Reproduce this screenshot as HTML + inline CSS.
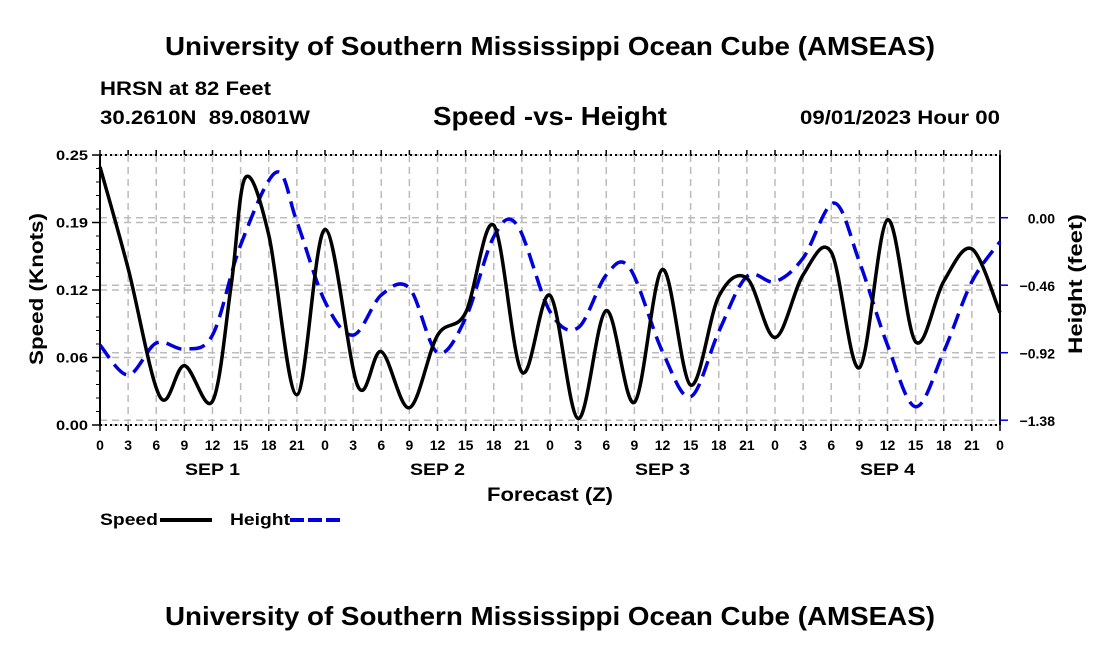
<!DOCTYPE html>
<html><head><meta charset="utf-8"><style>
body{margin:0;background:#fff;}
svg text{font-family:"Liberation Sans",sans-serif;font-weight:bold;fill:#000;}
</style></head><body>
<svg id="chart" width="1100" height="650" viewBox="0 0 1100 650" xmlns="http://www.w3.org/2000/svg">
<text x="165" y="55" font-size="26" textLength="770" lengthAdjust="spacingAndGlyphs">University of Southern Mississippi Ocean Cube (AMSEAS)</text>
<text x="100" y="95" font-size="19" textLength="171" lengthAdjust="spacingAndGlyphs">HRSN at 82 Feet</text>
<text x="100" y="124" font-size="19" textLength="210" lengthAdjust="spacingAndGlyphs" xml:space="preserve">30.2610N  89.0801W</text>
<text x="433" y="125" font-size="26" textLength="234" lengthAdjust="spacingAndGlyphs">Speed -vs- Height</text>
<text x="800" y="124" font-size="19" textLength="200" lengthAdjust="spacingAndGlyphs">09/01/2023 Hour 00</text>
<g id="grid"></g>
<g id="axes"></g>
<g id="series"></g>
<text transform="translate(43,289) rotate(-90)" font-size="19" text-anchor="middle" textLength="152" lengthAdjust="spacingAndGlyphs">Speed (Knots)</text>
<text transform="translate(1082,284) rotate(-90)" font-size="19" text-anchor="middle" textLength="140" lengthAdjust="spacingAndGlyphs">Height (feet)</text>
<text x="487" y="501" font-size="19" textLength="126" lengthAdjust="spacingAndGlyphs">Forecast (Z)</text>
<g>
<text x="100" y="525" font-size="17" textLength="58" lengthAdjust="spacingAndGlyphs">Speed</text>
<line x1="160" y1="520" x2="212" y2="520" stroke="#000" stroke-width="4"/>
<text x="230" y="525" font-size="17" textLength="60" lengthAdjust="spacingAndGlyphs">Height</text>
<line x1="290" y1="520" x2="342" y2="520" stroke="#0000dd" stroke-width="4" stroke-dasharray="14,4"/>
</g>
<text x="165" y="625" font-size="26" textLength="770" lengthAdjust="spacingAndGlyphs">University of Southern Mississippi Ocean Cube (AMSEAS)</text>
</svg>
<script>
const speedHours=[0,3,6.4,9,12,14,15.5,18,21,24,27.5,30,33,36,39,42,45,48,51,54,57,60,63,66,69,72,75,78,81,84,87,90,93,96];
const speedValues=[0.239,0.145,0.026,0.055,0.022,0.13,0.229,0.176,0.028,0.181,0.036,0.068,0.016,0.083,0.104,0.185,0.049,0.12,0.006,0.106,0.021,0.144,0.037,0.119,0.136,0.081,0.139,0.16,0.053,0.19,0.077,0.133,0.163,0.104];
const heightHours=[0,3,6,9,12,15,18.8,21,24,27,30,33,36,39,42,44.5,48,51,54,56.5,60,63,66,69,72,75,78.3,81,84,87,90,93,96];
const heightValues=[-0.868,-1.072,-0.854,-0.895,-0.80,-0.186,0.31,-0.027,-0.572,-0.80,-0.527,-0.48,-0.92,-0.684,-0.13,-0.05,-0.64,-0.75,-0.39,-0.343,-0.913,-1.22,-0.777,-0.40,-0.436,-0.275,0.10,-0.30,-0.868,-1.288,-0.913,-0.436,-0.164];
const xTickLabels=["0","3","6","9","12","15","18","21"];
const dayLabels=["SEP 1","SEP 2","SEP 3","SEP 4"];
const leftTicks=[0,0.0625,0.125,0.1875,0.25];
const leftTickLabels=["0.00","0.06","0.12","0.19","0.25"];
const rightTicks=[0,-0.46,-0.92,-1.38];
const rightTickLabels=["0.00","\u22120.46","\u22120.92","\u22121.38"];

const X0=100,X1=1000,YT=155,YB=425;
const xs=h=>X0+(X1-X0)*h/96;
const ysL=v=>YB-(YB-YT)*v/0.25;
const ysR=v=>217.7-v*67.5/0.46;
const NS="http://www.w3.org/2000/svg";
function mk(tag,attrs,parent){const e=document.createElementNS(NS,tag);for(const k in attrs)e.setAttribute(k,attrs[k]);parent.appendChild(e);return e;}
const grid=document.getElementById('grid'),axes=document.getElementById('axes'),series=document.getElementById('series');

for(let h=3;h<96;h+=3){const l=mk('line',{x1:xs(h),x2:xs(h),y1:YT,y2:YB,stroke:'#bbb','stroke-width':1.5,'stroke-dasharray':'7,5'},grid);

}
leftTicks.forEach(v=>{const l=mk('line',{x1:X0,x2:X1,y1:ysL(v),y2:ysL(v),stroke:'#bbb','stroke-width':1.5,'stroke-dasharray':'7,5'},grid);

});
rightTicks.forEach(v=>{const l=mk('line',{x1:X0,x2:X1,y1:ysR(v),y2:ysR(v),stroke:'#bbb','stroke-width':1.5,'stroke-dasharray':'7,5'},grid);

});

mk('line',{x1:X0,x2:X0,y1:YT,y2:YB,stroke:'#000','stroke-width':2},axes);
mk('line',{x1:X1,x2:X1,y1:YT,y2:YB,stroke:'#000','stroke-width':2},axes);
mk('line',{x1:X0,x2:X1,y1:YT,y2:YT,stroke:'#000','stroke-width':2,'stroke-dasharray':'2,3'},axes);
mk('line',{x1:X0,x2:X1,y1:YB,y2:YB,stroke:'#000','stroke-width':2,'stroke-dasharray':'2,3'},axes);
for(let h=0;h<=96;h+=3){
  mk('line',{x1:xs(h),x2:xs(h),y1:YB,y2:YB+6,stroke:'#000','stroke-width':1.5},axes);
  mk('line',{x1:xs(h),x2:xs(h),y1:YT,y2:YT-5,stroke:'#000','stroke-width':1.5},axes);
  const t=mk('text',{x:xs(h),y:YB+25,'font-size':14,'text-anchor':'middle'},axes);
  t.textContent=xTickLabels[(h/3)%8];
  
  
}
dayLabels.forEach((d,i)=>{const t=mk('text',{x:xs(12+24*i),y:YB+50,'font-size':17,'text-anchor':'middle',textLength:55,lengthAdjust:'spacingAndGlyphs'},axes);t.textContent=d;

});
for(let v=0;v<=0.25001;v+=0.0125){mk('line',{x1:X0-4,x2:X0,y1:ysL(v),y2:ysL(v),stroke:'#000','stroke-width':1},axes);}
leftTicks.forEach((v,i)=>{mk('line',{x1:X0-8,x2:X0,y1:ysL(v),y2:ysL(v),stroke:'#000','stroke-width':1.5},axes);
const t=mk('text',{x:X0-12,y:ysL(v)+5,'font-size':14,'text-anchor':'end',textLength:32,lengthAdjust:'spacingAndGlyphs'},axes);t.textContent=leftTickLabels[i];

});
rightTicks.forEach((v,i)=>{mk('line',{x1:X1,x2:X1+8,y1:ysR(v),y2:ysR(v),stroke:'#0000dd','stroke-width':1.5},axes);
const t=mk('text',{x:1055,y:ysR(v)+6,'font-size':14,'text-anchor':'end'},axes);t.textContent=rightTickLabels[i];

});

function smooth(pts){let d=`M${pts[0][0]},${pts[0][1]}`;
 for(let i=0;i<pts.length-1;i++){const p0=pts[i-1]||pts[i],p1=pts[i],p2=pts[i+1],p3=pts[i+2]||p2;
  const c1=[p1[0]+(p2[0]-p0[0])/6,p1[1]+(p2[1]-p0[1])/6],c2=[p2[0]-(p3[0]-p1[0])/6,p2[1]-(p3[1]-p1[1])/6];
  d+=`C${c1[0]},${c1[1]} ${c2[0]},${c2[1]} ${p2[0]},${p2[1]}`;}return d;}
const hp=mk('path',{d:smooth(heightHours.map((h,i)=>[xs(h),ysR(heightValues[i])])),fill:'none',stroke:'#0000dd','stroke-width':3.5,'stroke-dasharray':'16,8'},series);


const sp=mk('path',{d:smooth(speedHours.map((h,i)=>[xs(h),ysL(speedValues[i])])),fill:'none',stroke:'#000','stroke-width':3.5,'stroke-linejoin':'round'},series);


</script>
</body></html>
